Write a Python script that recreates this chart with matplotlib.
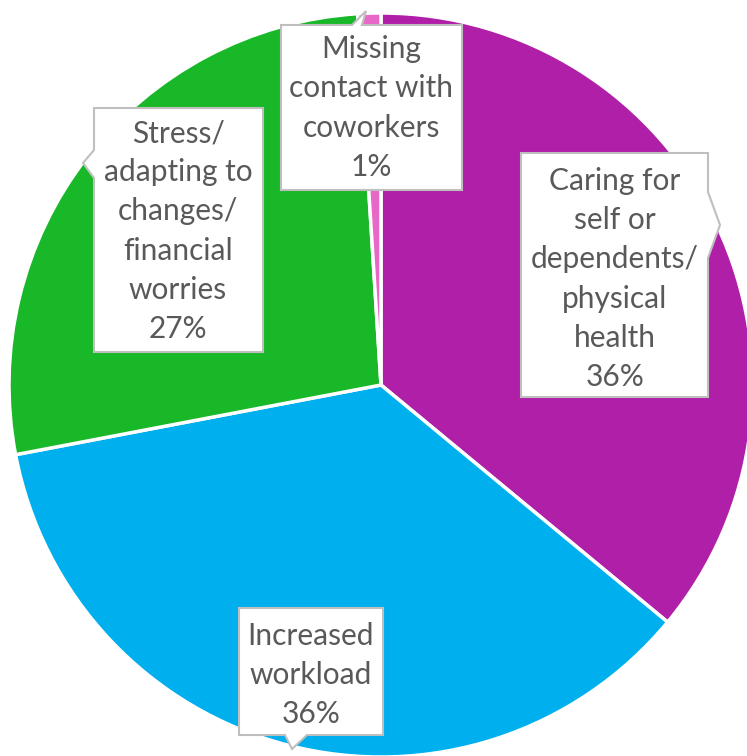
import matplotlib.pyplot as plt
from matplotlib.patches import Polygon

# data, clockwise from 12 o'clock
labels = ["Caring for\nself or\ndependents/\nphysical\nhealth",
          "Increased\nworkload",
          "Stress/\nadapting to\nchanges/\nfinancial\nworries",
          "Missing\ncontact with\ncoworkers"]
shares = [36, 36, 27, 1]
colors = ["#B01FA8", "#00B0EE", "#18B829", "#E868C8"]

W, H = 747, 756
CX, CY, R = 381, 385, 372   # pie centre and radius in pixels

fig = plt.figure(figsize=(W / 100, H / 100), dpi=100)
ax = fig.add_axes([0, 0, 1, 1])
ax.pie(shares, colors=colors, startangle=90, counterclock=False, radius=1,
       wedgeprops=dict(edgecolor="white", linewidth=2.5))
ax.set_xlim(-CX / R, (W - CX) / R)
ax.set_ylim(-(H - CY) / R, CY / R)
ax.set_aspect("auto")
ax.axis("off")

# overlay in pixel coordinates for the callout boxes
ov = fig.add_axes([0, 0, 1, 1])
ov.set_xlim(0, W)
ov.set_ylim(H, 0)
ov.axis("off")

# callout outlines: box corners + pointer (pixel layout)
callouts = [
    # caring: pointer on right edge
    [(521, 153), (708, 153), (708, 192), (720, 225), (708, 258),
     (708, 397), (521, 397)],
    # increased: pointer at bottom
    [(239, 608), (383, 608), (383, 735), (307, 735), (292, 749),
     (285, 735), (239, 735)],
    # stress: pointer on left edge
    [(94, 108), (263, 108), (263, 352), (94, 352), (94, 178),
     (83, 163), (94, 150)],
    # missing: pointer at top
    [(281, 25), (352, 25), (366, 11), (362, 25), (462, 25),
     (462, 190), (281, 190)],
]
text_pos = [(615, 279), (311, 675), (178, 231), (371, 108)]

for shape, (tx, ty), lab, pct in zip(callouts, text_pos, labels, shares):
    ov.add_patch(Polygon(shape, closed=True, facecolor="white",
                         edgecolor="#BFBFBF", linewidth=1.5, zorder=3))
    ov.text(tx, ty, f"{lab}\n{pct}%", ha="center", va="center",
            fontsize=21.5, family="Lato", color="#595959",
            linespacing=1.48, zorder=4)

fig.savefig("out.png", dpi=100)
